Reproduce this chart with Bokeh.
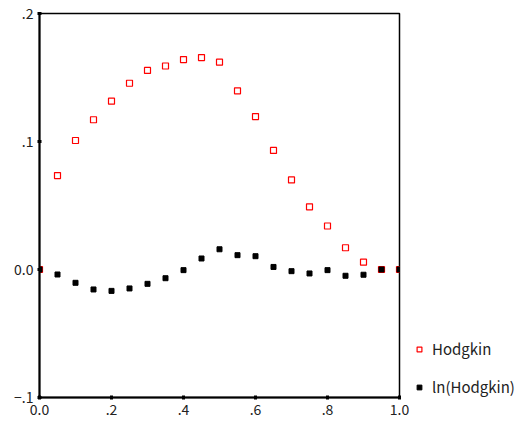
from bokeh.plotting import figure
from bokeh.layouts import row
from bokeh.models import FixedTicker, Legend, LegendItem, Range1d
from bokeh.embed import file_html
from bokeh.resources import INLINE

x_vals = [0.0, 0.05, 0.10, 0.15, 0.20, 0.25, 0.30, 0.35, 0.40, 0.45, 0.50,
          0.55, 0.60, 0.65, 0.70, 0.75, 0.80, 0.85, 0.90, 0.95, 1.0]
hodgkin = [0.0, 0.0734, 0.1008, 0.117, 0.1315, 0.1455, 0.1555, 0.159, 0.164, 0.1656, 0.162,
           0.1396, 0.1195, 0.093, 0.070, 0.049, 0.034, 0.017, 0.0057, 0.0, 0.0]
ln_hodgkin = [0.0, -0.0039, -0.0104, -0.0156, -0.0167, -0.0148, -0.0112, -0.0068, -0.0005, 0.0086, 0.0158,
              0.0112, 0.0104, 0.002, -0.0013, -0.0031, -0.0005, -0.0049, -0.0041, 0.0, 0.0]
x_ticks = [0.0, 0.2, 0.4, 0.6, 0.8, 1.0]
x_tick_labels = ["0.0", ".2", ".4", ".6", ".8", "1.0"]
y_ticks = [-0.1, 0.0, 0.1, 0.2]
y_tick_labels = ["\u2212.1", "0.0", ".1", ".2"]
series_names = ["Hodgkin", "ln(Hodgkin)"]

FONT = "Noto Sans CJK KR"
RED = "#ff0000"
NAN = float("nan")

p = figure(width=413, height=423, output_backend="svg", toolbar_location=None,
           x_range=Range1d(0, 1), y_range=Range1d(-0.1, 0.2),
           min_border_left=39, min_border_right=14, min_border_top=13, min_border_bottom=26)
p.grid.visible = False
p.outline_line_color = "black"
p.outline_line_width = 1.5

r1 = p.scatter(x_vals, hodgkin, marker="square", size=6, fill_color=None,
               line_color=RED, line_width=1.2)
r2 = p.scatter(x_vals, ln_hodgkin, marker="square", size=5, fill_color="black",
               line_color="black", line_width=1)

for ax, ticks, labels in ((p.xaxis[0], x_ticks, x_tick_labels), (p.yaxis[0], y_ticks, y_tick_labels)):
    ax.ticker = FixedTicker(ticks=ticks)
    ax.major_label_overrides = {t: l for t, l in zip(ticks, labels)}
    ax.minor_tick_line_color = None
    ax.major_tick_in = 2
    ax.major_tick_out = 2
    ax.major_tick_line_width = 3
    ax.axis_line_width = 2
    ax.major_label_text_font = FONT
    ax.major_label_text_font_size = "14px"
    ax.major_label_text_color = "#222222"
    ax.major_label_standoff = 4

# Legend lives in a narrow companion figure to the right of the plot
lg = figure(width=119, height=423, output_backend="svg", toolbar_location=None,
            x_range=Range1d(0, 1), y_range=Range1d(0, 1),
            min_border=0, outline_line_color=None)
lg.axis.visible = False
lg.grid.visible = False
l1 = lg.scatter([NAN], [NAN], marker="square", fill_color=None, line_color=RED, line_width=1.2)
l2 = lg.scatter([NAN], [NAN], marker="square", fill_color="black", line_color="black", line_width=1)

legend = Legend(items=[LegendItem(label=series_names[0], renderers=[l1]),
                       LegendItem(label=series_names[1], renderers=[l2])],
                location=(0, 0), padding=0, margin=0, spacing=17,
                glyph_width=12, glyph_height=14, label_height=20, label_standoff=7,
                label_text_font=FONT, label_text_font_size="15px",
                label_text_color="#222222",
                border_line_color=None, background_fill_alpha=0)
lg.add_layout(legend, "center")

layout = row(p, lg, spacing=0)
open("out.html", "w").write(file_html(layout, INLINE))
